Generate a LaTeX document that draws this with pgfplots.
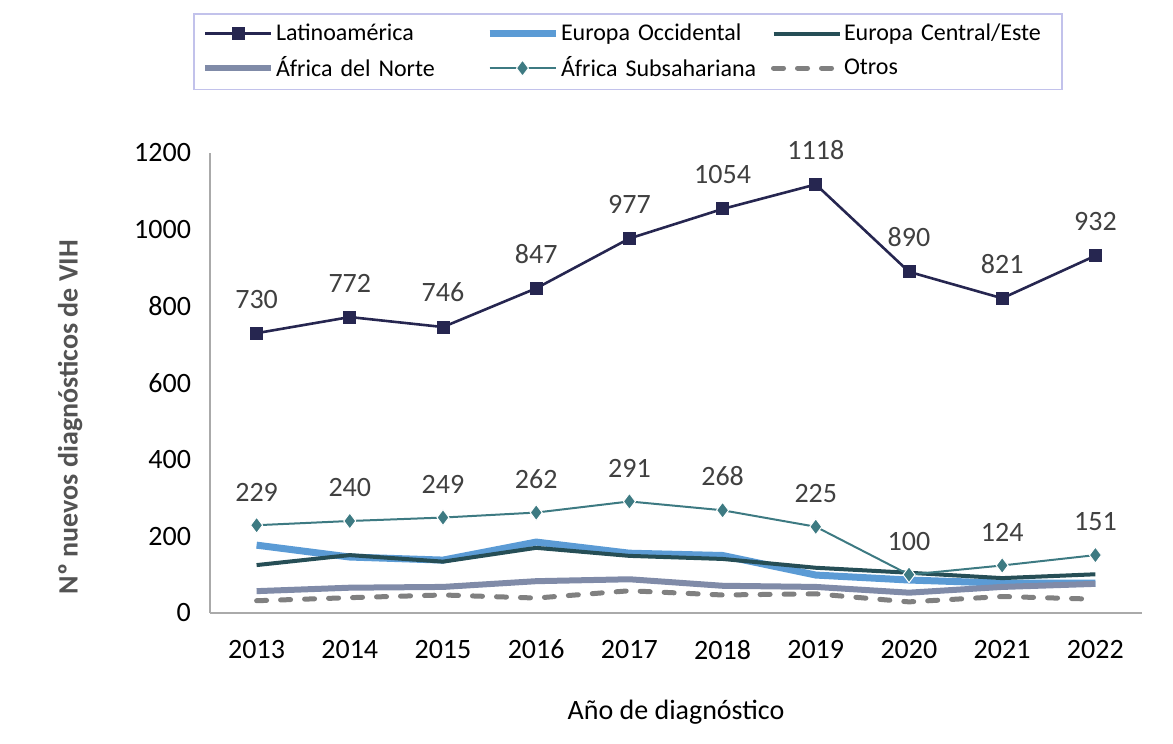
\documentclass[border=0pt]{standalone}
\usepackage{pgfplots}
\pgfplotsset{compat=1.18}
\usepackage{fontspec}
\setmainfont{Carlito}
\definecolor{clat}{RGB}{38,38,80}
\definecolor{ceo}{RGB}{91,155,213}
\definecolor{cce}{RGB}{38,78,86}
\definecolor{can}{RGB}{128,139,168}
\definecolor{cas}{RGB}{61,122,130}
\definecolor{cot}{RGB}{128,128,128}
\definecolor{clab}{RGB}{64,64,64}
\definecolor{caxis}{RGB}{170,170,170}
\begin{document}
\begin{tikzpicture}
\useasboundingbox (0pt,0pt) rectangle (586.5pt,372pt);
\begin{axis}[
  at={(105pt,65.5pt)}, anchor=origin,
  scale only axis, width=466pt, height=230pt,
  xmin=2012.5, xmax=2022.5, ymin=0, ymax=1200,
  xtick={2013,...,2022}, ytick={0,200,...,1200},
  /pgf/number format/1000 sep={},
  /pgf/number format/assume math mode=true,
  axis x line*=bottom, axis y line*=left,
  axis line style={caxis, line width=1pt, -},
  tick style={draw=none},
  ticklabel style={font=\fontsize{14}{17}\selectfont, text=black},
  yticklabel style={xshift=-6pt},
  xticklabel style={yshift=-10pt},
  xlabel={Año de diagnóstico},
  xlabel style={font=\fontsize{14}{17}\selectfont, yshift=-13.5pt},
  ylabel={\bfseries Nº nuevos diagnósticos de VIH},
  ylabel style={font=\fontsize{14}{17}\selectfont, text=clab!90, at={(ticklabel cs:0.426,19pt)}},
  clip=false,
  legend columns=3,
  legend style={at={(-0.018,1.304)}, anchor=north west, draw=caxis!60!blue!40, line width=0.8pt,
     font=\fontsize{12}{14}\selectfont, row sep=4.5pt, inner sep=4pt,
     nodes={text width=104pt, align=left, inner sep=1pt},
     column 6/.style={nodes={text width=93pt}}},
  legend image code/.code={\draw[#1] (0pt,0pt) -- (33pt,0pt);
     \path[#1,solid] plot coordinates {(16.5pt,0pt)};},
  legend cell align=left,
  every node near coord/.append style={font=\fontsize{14}{17}\selectfont, text=clab},
]
\addplot[clat, line width=1.3pt, mark=square*, mark size=2.6pt,
  nodes near coords, node near coord style={yshift=8.5pt}]
  coordinates {(2013,730)(2014,772)(2015,746)(2016,847)(2017,977)(2018,1054)(2019,1118)(2020,890)(2021,821)(2022,932)};
\addlegendentry{Latinoamérica}
\addplot[ceo, line width=3.5pt, no marks]
  coordinates {(2013,177)(2014,146)(2015,138)(2016,185)(2017,156)(2018,150)(2019,99)(2020,86)(2021,78)(2022,78)};
\addlegendentry{Europa Occidental}
\addplot[cce, line width=2pt, no marks]
  coordinates {(2013,125)(2014,151)(2015,134)(2016,170)(2017,149)(2018,141)(2019,118)(2020,105)(2021,91)(2022,101)};
\addlegendentry{Europa Central/Este}
\addplot[can, line width=3pt, no marks]
  coordinates {(2013,57)(2014,66)(2015,68)(2016,83)(2017,88)(2018,71)(2019,68)(2020,53)(2021,68)(2022,76)};
\addlegendentry{África del Norte}
\addplot[cas, line width=1pt, mark=diamond*, mark size=4pt, mark options={draw=white,line width=0.5pt},
  nodes near coords, node near coord style={yshift=8.5pt}]
  coordinates {(2013,229)(2014,240)(2015,249)(2016,262)(2017,291)(2018,268)(2019,225)(2020,100)(2021,124)(2022,151)};
\addlegendentry{África Subsahariana}
\addplot[cot, line width=2.5pt, no marks, line cap=round, dash pattern=on 5pt off 7pt]
  coordinates {(2013,32)(2014,40)(2015,47)(2016,39)(2017,58)(2018,47)(2019,50)(2020,29)(2021,43)(2022,36)};
\addlegendentry{Otros}
\end{axis}
\end{tikzpicture}
\end{document}
